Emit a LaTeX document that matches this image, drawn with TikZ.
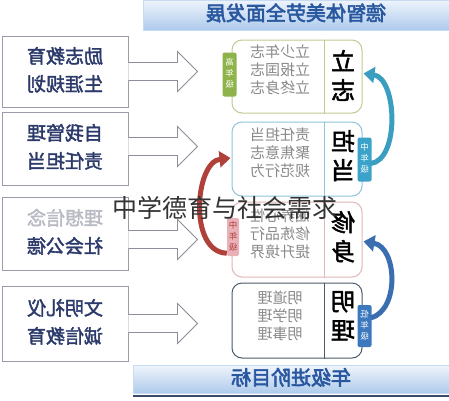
\documentclass[tikz,border=0pt]{standalone}
\usepackage{fontspec}
\setmainfont{Noto Sans CJK SC}
\newfontfamily\cjk{Noto Sans CJK SC}
\newfontfamily\cjkb[FakeBold=2]{Noto Sans CJK SC}
\newfontfamily\cjkbb[FakeBold=3]{Noto Sans CJK SC}
\usetikzlibrary{arrows.meta,calc}
\definecolor{navy}{HTML}{2B3A6B}
\definecolor{boxgray}{HTML}{9A9CAA}
\definecolor{arrowgray}{HTML}{8C8E98}
\definecolor{midgray}{HTML}{8A8A8A}
\definecolor{bannertop}{HTML}{EEF4FC}
\definecolor{bannerbot}{HTML}{AECAEB}
\definecolor{bannertext}{HTML}{2A58A0}
\definecolor{bannerline}{HTML}{3A4A6A}
\definecolor{greenb}{HTML}{C2CA92}
\definecolor{greent}{HTML}{8DB34A}
\definecolor{blueb}{HTML}{8CC4DC}
\definecolor{bluet}{HTML}{3BA3C9}
\definecolor{pinkb}{HTML}{E2B8B8}
\definecolor{pinkt}{HTML}{EAB0B8}
\definecolor{slateb}{HTML}{4A5A6A}
\definecolor{darkbluet}{HTML}{3C78BE}
\definecolor{tealarrow}{HTML}{3A9EC0}
\definecolor{bluearrow}{HTML}{3A6EB0}
\definecolor{redarrow}{HTML}{B0403A}
\definecolor{overlay}{HTML}{333333}
\newcommand{\mir}[1]{\reflectbox{\begin{tabular}{@{}c@{}}#1\end{tabular}}}
\begin{document}
\begin{tikzpicture}[x=1pt,y=-1pt,
  leftbox/.style={draw=boxgray, line width=0.9pt, fill=white, minimum width=126pt, inner sep=0pt, font=\cjkb\fontsize{19}{28}\selectfont, text=navy},
  stagebox/.style={draw=#1, line width=1pt, rounded corners=10pt, fill=white, minimum width=130pt, inner sep=0pt},
  midtext/.style={text=midgray, font=\cjk\fontsize{15}{17.5}\selectfont, inner sep=0pt},
  bigchar/.style={font=\cjkb\fontsize{24}{29}\selectfont, text=black, inner sep=0pt},
  tagbox/.style={fill=#1, rounded corners=2pt, minimum width=14pt, minimum height=44pt, inner sep=0pt, font=\cjk\fontsize{8.5}{11}\selectfont, text=white},
  blockarrow/.style={draw=arrowgray, line width=0.9pt, fill=white},
  bentarrow/.style={draw=#1, line width=5pt, -{Triangle[length=11pt,width=16pt]}},
  banner/.style={top color=bannertop, bottom color=bannerbot, draw=bannerbot!70!white, inner sep=0pt, font=\cjkbb\fontsize{20}{20}\selectfont, text=bannertext}
]
\useasboundingbox (0,0) rectangle (449,400);
\fill[white] (0,0) rectangle (449,400);

% banners
\node[banner, minimum width=306pt, minimum height=30pt] (top) at (296,15) {\mir{德智体美劳全面发展}};
\node[banner, minimum width=316pt, minimum height=28pt] (bot) at (291,379.5) {\mir{年级进阶目标}};
\draw[bannerline, line width=2pt] (bot.south west) ++(0,2) coordinate (bl) -- (bl -| bot.south east);

% left boxes
\node[leftbox, minimum height=71pt] (l1) at (65,71.5) {\mir{励志教育\\生涯规划}};
\node[leftbox, minimum height=73pt] (l2) at (65,148.5) {\mir{自我管理\\责任担当}};
\node[leftbox, minimum height=73pt] (l3) at (65,233.5) {\mir{\textcolor{boxgray!70}{理想信念}\\社会公德}};
\node[leftbox, minimum height=75pt] (l4) at (65,323.5) {\mir{文明礼仪\\诚信教育}};

% block arrows
\foreach \b/\s in {l1/0,l2/-2,l3/6,l4/0}{
  \draw[blockarrow] ($(\b.east)+(0,\s-9)$) -| ($(\b.east)+(49,\s-20)$) -- ($(\b.east)+(69,\s)$) -- ($(\b.east)+(49,\s+20)$) |- ($(\b.east)+(0,\s+9)$);
}

% stage boxes
\node[stagebox=greenb, minimum height=73pt] (A) at (297,76.5) {};
\node[stagebox=blueb, minimum height=74pt] (B) at (297,159) {};
\node[stagebox=pinkb, minimum height=75pt] (C) at (297,239.5) {};
\node[stagebox=slateb, minimum height=75pt] (D) at (297,320.5) {};
\draw[greenb, line width=1pt] ($(A.north)+(27,0)$) -- ($(A.south)+(27,0)$);
\draw[blueb, line width=1pt] ($(B.north)+(27,0)$) -- ($(B.south)+(27,0)$);
\draw[pinkb, line width=1pt] ($(C.north)+(27,0)$) -- ($(C.south)+(27,0)$);
\draw[slateb, line width=1pt] ($(D.north)+(27,0)$) -- ($(D.south)+(27,0)$);

% middle texts
\node[midtext] (ta) at (280,72) {\mir{立少年志\\立报国志\\立终身志}};
\node[midtext] (tb) at (280,155) {\mir{责任担当\\聚焦意志\\规范行为}};
\node[midtext] (tc) at (280,236) {\mir{涵养心性\\修炼品行\\提升境界}};
\node[midtext] (td) at (280,318) {\mir{明道理\\明学理\\明事理}};

% big characters
\node[bigchar] (ba) at (343,79) {\mir{立\\志}};
\node[bigchar] (bb) at (343,159) {\mir{担\\当}};
\node[bigchar] (bc) at (343,240) {\mir{修\\身}};
\node[bigchar] (bd) at (343,319) {\mir{明\\理}};

% tags
\node[tagbox=greent] (tA) at (229.5,74.5) {\mir{高\\年\\级}};
\node[tagbox=bluet] (tB) at (364.5,159.5) {\mir{中\\年\\级}};
\node[tagbox=pinkt, minimum width=12pt, minimum height=38pt, text=redarrow] (tC) at (233,237) {\mir{中\\年\\级}};
\node[tagbox=darkbluet, minimum height=42pt] (tD) at (364.5,326) {\mir{低\\年\\级}};

% curved arrows
\draw[bentarrow=tealarrow] ($(tB.east)+(-1,4)$) .. controls (400,160) and (397,78) .. ($(A.east)+(1,-3)$);
\draw[bentarrow=bluearrow] ($(tD.east)+(-1,-8)$) .. controls (400,310) and (397,247) .. ($(C.east)+(1,2)$);
\draw[bentarrow=redarrow] ($(tC.south west)+(0,-3)$) .. controls (188,252) and (195,162) .. ($(B.west)+(-1,-1)$);

% overlay caption
\node[text=overlay, font=\cjk\fontsize{25}{25}\selectfont, inner sep=0pt] (cap) at (225,208) {中学德育与社会需求};
\end{tikzpicture}
\end{document}
